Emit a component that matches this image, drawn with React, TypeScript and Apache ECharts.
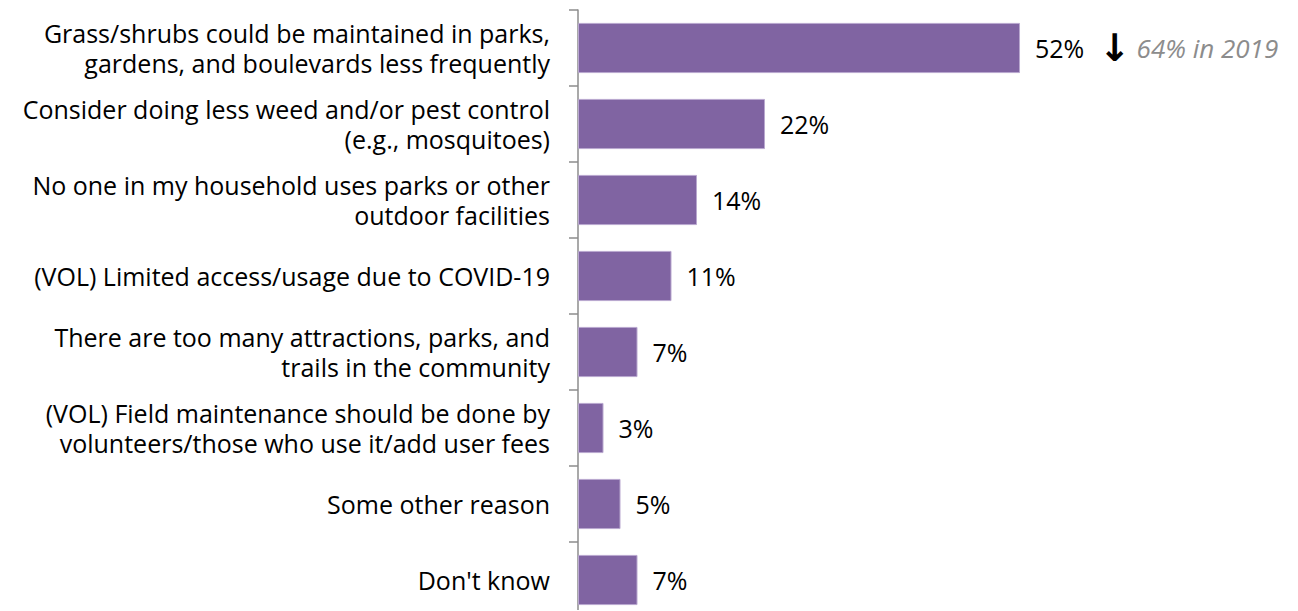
import React, { useEffect, useRef } from "react";
import * as echarts from "echarts";

const categories = [
  "Grass/shrubs could be maintained in parks,\ngardens, and boulevards less frequently",
  "Consider doing less weed and/or pest control\n(e.g., mosquitoes)",
  "No one in my household uses parks or other\noutdoor facilities",
  "(VOL) Limited access/usage due to COVID-19",
  "There are too many attractions, parks, and\ntrails in the community",
  "(VOL) Field maintenance should be done by\nvolunteers/those who use it/add user fees",
  "Some other reason",
  "Don't know",
];
const values = [52, 22, 14, 11, 7, 3, 5, 7];
const notes = ["64% in 2019", "", "", "", "", "", "", ""];

const FONT = "'Open Sans', sans-serif";

export default function App() {
  const ref = useRef<HTMLDivElement>(null);
  useEffect(() => {
    if (!ref.current) return;
    const chart = echarts.init(ref.current, undefined, { renderer: "svg" });
    chart.setOption({
      animation: false,
      grid: { left: 578, right: 0, top: 10, bottom: 0, containLabel: false },
      xAxis: {
        type: "value",
        min: 0,
        max: 84.7,
        show: false,
      },
      yAxis: {
        type: "category",
        inverse: true,
        data: categories,
        axisLine: { show: true, lineStyle: { color: "#8c8c8c", width: 1.5 } },
        axisTick: { show: true, length: 9, lineStyle: { color: "#8c8c8c", width: 1.5 } },
        axisLabel: {
          margin: 28,
          color: "#000",
          fontFamily: FONT,
          fontSize: 25,
          lineHeight: 30,
          align: "right",
        },
        splitLine: { show: false },
      },
      series: [
        {
          type: "bar",
          data: values,
          barCategoryGap: "34%",
          itemStyle: { color: "#8064A2", borderColor: "#b9a8cf", borderWidth: 1 },
          label: {
            show: true,
            position: "right",
            distance: 15,
            fontFamily: FONT,
            fontSize: 25,
            color: "#000",
            formatter: (p: any) => {
              const n = notes[p.dataIndex];
              return n ? `${p.value}% {arr|↓}{note|${n}}` : `${p.value}%`;
            },
            rich: {
              arr: { fontSize: 38, color: "#000", fontFamily: "DejaVu Sans", fontWeight: "bold", padding: [0, 6, 0, 8], lineHeight: 30 },
              note: { fontSize: 26, color: "#8c8c8c", fontStyle: "italic", fontFamily: FONT },
            },
          },
        },
      ],
    });
    return () => chart.dispose();
  }, []);
  return <div ref={ref} style={{ width: 1298, height: 618, margin: -8 }} />;
}
